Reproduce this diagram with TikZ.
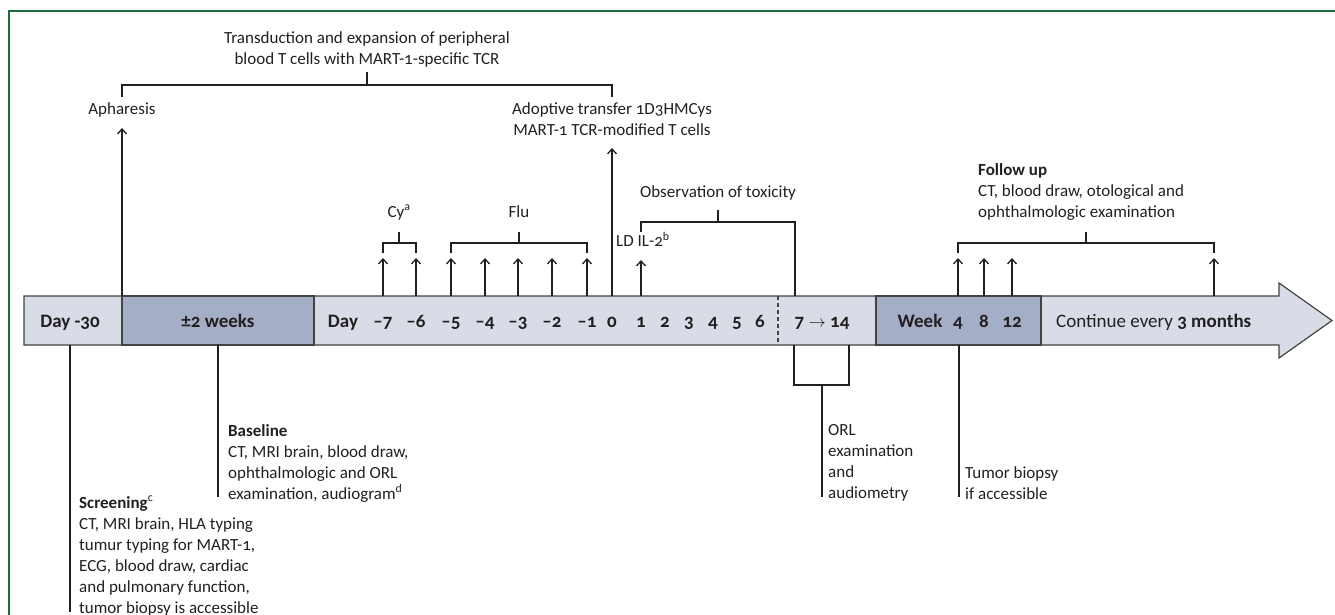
\documentclass[tikz,border=0pt]{standalone}
\usepackage{fontspec}
\setmainfont{Carlito}[Numbers=OldStyle]
\usetikzlibrary{arrows.meta}
\definecolor{frame}{HTML}{1E6B3C}
\definecolor{barlight}{HTML}{D7DCE6}
\definecolor{bardark}{HTML}{A4AEC7}
\definecolor{ink}{HTML}{231F20}

\begin{document}
\begin{tikzpicture}[x=1pt,y=-1pt,
  every node/.style={inner sep=0pt, text=ink, font=\fontsize{17}{21}\selectfont},
  txt/.style={align=left, anchor=north west},
  ctxt/.style={align=center, anchor=north},
  daynum/.style={anchor=base, font=\fontsize{19}{23}\selectfont\bfseries},
  ln/.style={draw=ink, line width=1.8pt},
  up/.style={ln, -{Straight Barb[length=5pt, width=9pt, line width=1.3pt]}},
  seg/.style={draw=ink!85, line width=1.2pt}]
\useasboundingbox (0,0) rectangle (1335,615);
\draw[frame, line width=2.6pt] (9,615) -- (9,11) -- (1335,11);

% time bar
\filldraw[seg, fill=barlight] (24,296) -- (1279,296) -- (1279,283) -- (1332,320.5)
  -- (1279,358) -- (1279,345) -- (24,345) -- cycle;
\filldraw[seg, fill=bardark] (122,296) rectangle (314,345);
\filldraw[seg, fill=bardark] (876,296) rectangle (1041,345);
\draw[seg, dash pattern=on 4pt off 3pt] (778,296) -- (778,345);

\node[daynum] (d30) at (70,327) {Day -30};
\node[daynum] (wk2) at (218,327) {±2 weeks};
\node[daynum] (day) at (343,327) {Day};
\foreach \x/\d in {383/–7, 416/–6, 451/–5, 485/–4, 518/–3, 552/–2, 587/–1,
                   612/0, 641/1, 665/2, 689/3, 713/4, 737/5, 760/6}{
  \node[daynum] (n\x) at (\x,327) {\d};
  \coordinate (t\x) at (\x,296);
}
\node[daynum] (d714) at (822,327) {7 $\rightarrow$ 14};
\node[daynum] (wk) at (920,327) {Week};
\foreach \x/\d in {958/4, 984/8, 1012/12}{
  \node[daynum] (w\x) at (\x,327) {\d};
  \coordinate (t\x) at (\x,296);
}
\coordinate (t1214) at (1214,296);
\node[anchor=base west, font=\fontsize{19}{23}\selectfont] (cont) at (1056,327) {Continue every \textbf{3 months}};

% above the bar
\node[ctxt] (trans) at (367,31) {Transduction and expansion of peripheral\\blood T cells with MART-1-specific TCR};
\node[ctxt] (aph) at (122,102) {Apharesis};
\node[ctxt] (adopt) at (612,102) {Adoptive transfer 1D3HMCys\\MART-1 TCR-modified T cells};
\coordinate (t122) at (122,296);
\coordinate (aphtip) at (122,128);
\coordinate (adtip) at (612,148);
\draw[up] (t122) -- (aphtip);
\draw[up] (t612) -- (adtip);
\draw[ln] ([yshift=5pt]aph.north) |- (367,85) -| ([yshift=5pt]adopt.north);
\draw[ln] (367,85) -- (367,72);

\node[ctxt] (cy) at (399,205) {Cy\textsuperscript{a}};
\node[ctxt] (flu) at (519,205) {Flu};
\draw[ln] (383,253) |- (399,243) -| (416,253);
\draw[ln] (399,243) -- (399,232);
\draw[ln] (451,253) |- (519,243) -| (587,253);
\draw[ln] (519,243) -- (519,232);
\foreach \x in {383,416,451,485,518,552,587}
  \draw[up] (t\x) -- ++(0,-38);

\node[txt] (ld) at (616,232) {LD IL-2\textsuperscript{b}};
\draw[up] (t641) -- ++(0,-36);
\node[ctxt] (obs) at (718,185) {Observation of toxicity};
\draw[ln] (641,232) |- (718,222) -| (795,296);
\draw[ln] (718,222) -- (718,210);

\node[txt] (fu) at (978,163) {\textbf{Follow up}\\CT, blood draw, otological and\\ophthalmologic examination};
\draw[ln] (958,253) |- (1086,243) -| (1214,253);
\draw[ln] (1086,243) -- (1086,232);
\foreach \x in {958,984,1012,1214}
  \draw[up] (t\x) -- ++(0,-38);

% below the bar
\node[txt] (scr) at (79,496) {\textbf{Screening}\textsuperscript{c}\\CT, MRI brain, HLA typing\\tumur typing for MART-1,\\ECG, blood draw, cardiac\\and pulmonary function,\\tumor biopsy is accessible};
\draw[ln] (70,345) -- (70,612);
\node[txt] (base) at (228,424) {\textbf{Baseline}\\CT, MRI brain, blood draw,\\ophthalmologic and ORL\\examination, audiogram\textsuperscript{d}};
\draw[ln] (218,345) -- (218,497);
\node[txt] (orl) at (828,424) {ORL\\examination\\and\\audiometry};
\draw[ln] (794,345) |- (822,385) -| (849,345);
\draw[ln] (822,385) -- (822,497);
\node[txt] (tum) at (965,466) {Tumor biopsy\\if accessible};
\draw[ln] (959,345) -- (959,497);
\end{tikzpicture}
\end{document}
